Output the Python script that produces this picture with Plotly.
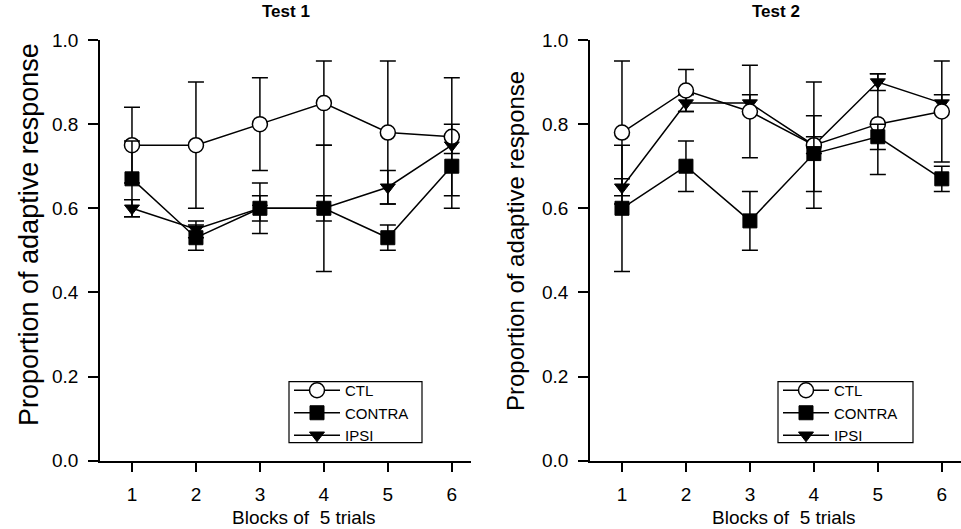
import plotly.graph_objects as go

blocks = [1, 2, 3, 4, 5, 6]
y_ticks = [0.0, 0.2, 0.4, 0.6, 0.8, 1.0]

# Test 1
t1_ctl = [0.75, 0.75, 0.80, 0.85, 0.78, 0.77]
t1_ctl_err = [0.09, 0.15, 0.11, 0.10, 0.17, 0.14]
t1_contra = [0.67, 0.53, 0.60, 0.60, 0.53, 0.70]
t1_contra_err = [0.09, 0.03, 0.06, 0.15, 0.03, 0.10]
t1_ipsi = [0.60, 0.55, 0.60, 0.60, 0.65, 0.75]
t1_ipsi_err = [0.02, 0.02, 0.03, 0.03, 0.04, 0.02]

# Test 2
t2_ctl = [0.78, 0.88, 0.83, 0.75, 0.80, 0.83]
t2_ctl_err = [0.17, 0.05, 0.11, 0.15, 0.12, 0.12]
t2_contra = [0.60, 0.70, 0.57, 0.73, 0.77, 0.67]
t2_contra_err = [0.15, 0.06, 0.07, 0.09, 0.03, 0.03]
t2_ipsi = [0.65, 0.85, 0.85, 0.75, 0.90, 0.85]
t2_ipsi_err = [0.02, 0.02, 0.02, 0.02, 0.02, 0.02]

FONT = "Liberation Sans, Arial, sans-serif"
W, H = 961, 529

styles = {
    "CTL": dict(symbol="circle", size=15, color="white", line=dict(color="black", width=1.5)),
    "CONTRA": dict(symbol="square", size=14, color="black", line=dict(color="black", width=1)),
    "IPSI": dict(symbol="triangle-down", size=13, color="black", line=dict(color="black", width=1)),
}
ranks = {"CTL": 1, "CONTRA": 2, "IPSI": 3}

fig = go.Figure()

def add(name, y, err, xa, ya, leg):
    fig.add_trace(go.Scatter(
        x=blocks, y=y, name=name, mode="lines+markers",
        line=dict(color="black", width=1.5),
        marker=styles[name],
        error_y=dict(type="data", array=err, visible=True, color="black", thickness=1.5, width=8),
        xaxis=xa, yaxis=ya, legend=leg, legendrank=ranks[name], cliponaxis=False,
    ))

for name, y, e in [("IPSI", t1_ipsi, t1_ipsi_err), ("CTL", t1_ctl, t1_ctl_err), ("CONTRA", t1_contra, t1_contra_err)]:
    add(name, y, e, "x", "y", "legend")
for name, y, e in [("IPSI", t2_ipsi, t2_ipsi_err), ("CTL", t2_ctl, t2_ctl_err), ("CONTRA", t2_contra, t2_contra_err)]:
    add(name, y, e, "x2", "y2", "legend2")

y0 = 1 - 460.7 / H
y1 = 1 - 40 / H
axis_common = dict(showline=True, linecolor="black", linewidth=1.5, ticks="outside", ticklen=10,
                   tickwidth=1.5, tickcolor="black", showgrid=False, zeroline=False, automargin=False,
                   tickfont=dict(family=FONT, size=19, color="black"))
xcommon = dict(axis_common, range=[0.5, 6.3], tickvals=blocks, ticklabelstandoff=6)
ycommon = dict(axis_common, range=[0, 1.0], tickvals=y_ticks, tickformat=".1f", ticklabelstandoff=6)

legend_common = dict(font=dict(family=FONT, size=15, color="black"), borderwidth=0,
                     bgcolor="rgba(0,0,0,0)", xanchor="left", yanchor="middle", tracegroupgap=0, itemwidth=46)

fig.update_layout(
    width=W, height=H, margin=dict(l=0, r=0, t=0, b=0, autoexpand=False),
    paper_bgcolor="white", plot_bgcolor="white",
    font=dict(family=FONT, color="black"),
    xaxis=dict(xcommon, domain=[100 / W, 471 / W], anchor="y"),
    yaxis=dict(ycommon, domain=[y0, y1], anchor="x"),
    xaxis2=dict(xcommon, domain=[590 / W, 961 / W], anchor="y2"),
    yaxis2=dict(ycommon, domain=[y0, y1], anchor="x2"),
    legend=dict(legend_common, x=289 / W, y=1 - 413 / H),
    legend2=dict(legend_common, x=778 / W, y=1 - 413 / H),
    showlegend=True,
)

# legend frames
for lx0, lx1 in [(289, 422), (778, 913)]:
    fig.add_shape(type="rect", xref="paper", yref="paper",
                  x0=lx0 / W, x1=lx1 / W, y0=1 - 442.7 / H, y1=1 - 381.7 / H,
                  line=dict(color="black", width=1.2), fillcolor="rgba(0,0,0,0)", layer="above")

ann = [
    dict(text="<b>Test 1</b>", x=286 / W, y=1 - 12 / H, size=17, angle=0),
    dict(text="<b>Test 2</b>", x=776 / W, y=1 - 12 / H, size=17, angle=0),
    dict(text="Proportion of adaptive response", x=29 / W, y=1 - 235 / H, size=27, angle=-90),
    dict(text="Proportion of adaptive response", x=515 / W, y=1 - 241 / H, size=24, angle=-90),
    dict(text="Blocks of  5 trials", x=304 / W, y=1 - 517 / H, size=19, angle=0),
    dict(text="Blocks of  5 trials", x=784 / W, y=1 - 517 / H, size=19, angle=0),
]
for a in ann:
    fig.add_annotation(text=a["text"], x=a["x"], y=a["y"], xref="paper", yref="paper",
                       xanchor="center", yanchor="middle", showarrow=False, textangle=a["angle"],
                       font=dict(family=FONT, size=a["size"], color="black"))

fig.write_html("out.html", config={"displayModeBar": False},
               post_script="document.body.style.margin='0';document.body.style.overflow='hidden';")
